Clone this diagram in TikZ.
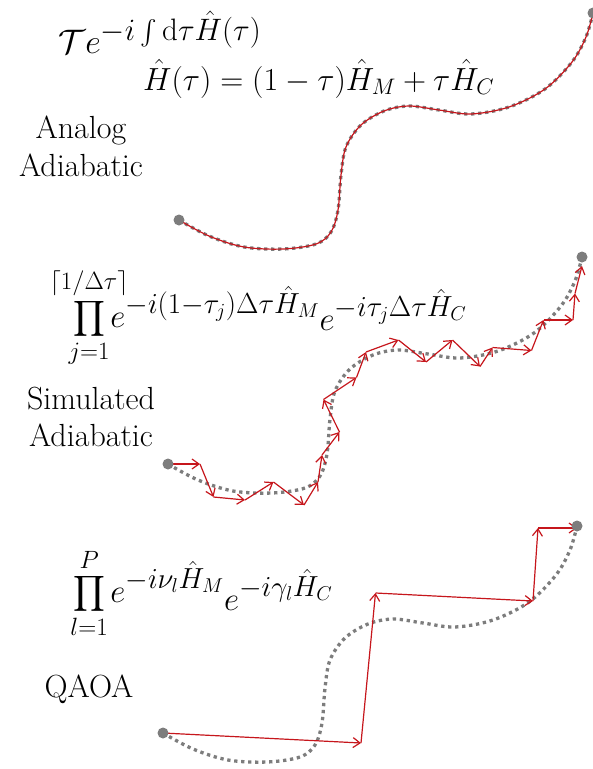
\RequirePackage{fix-cm}
\documentclass[tikz,border=0pt]{standalone}
\usepackage{exscale}
\usetikzlibrary{arrows.meta}
\DeclareMathSizes{34}{34}{31}{21}
\DeclareMathSizes{33}{33}{29}{20}
\definecolor{myred}{RGB}{198,22,28}
\definecolor{mygray}{RGB}{125,125,125}
\newcommand{\lims}[1]{\makebox[0pt]{\fontsize{25}{30}\selectfont$#1$}}
\begin{document}
\begin{tikzpicture}[x=1pt,y=-1pt,
  dotcurve/.style={draw=mygray, line width=3.3pt, dash pattern=on 3.3pt off 3.7pt},
  redcurve/.style={draw=myred, line width=1.2pt},
  redarr/.style={draw=myred, line width=1.2pt, line join=round, -{Straight Barb[length=7pt,width=10pt]}},
  enddot/.style={circle, fill=mygray, inner sep=0pt, minimum size=11pt},
  lbl/.style={anchor=base, inner sep=0pt, font=\fontsize{32}{38}\selectfont},
  eqa/.style={anchor=base west, inner sep=0pt, font=\fontsize{34}{40}\selectfont},
  eq/.style={anchor=base west, inner sep=0pt, font=\fontsize{33}{40}\selectfont},
  eqsmall/.style={anchor=base west, inner sep=0pt, font=\fontsize{32}{38}\selectfont}]
\useasboundingbox (0,0) rectangle (593,769);
\def\curvepts{(0,0) (30,16) (65,27) (104,29) (137,24) (152,12) (159,-10) (162,-45) (167,-73) (182,-95) (205,-109) (230,-114) (260,-110) (292,-106) (330,-113) (366,-131) (393,-158) (407,-183) (414,-207)}

% ---------- Panel 1: analog adiabatic ----------
\node[eqa] (f1) at (58,53) {$\mathcal{T}e^{-i\int\mathrm{d}\tau\hat{H}(\tau)}$};
\node[eqsmall] (f1b) at (143,90) {$\hat{H}(\tau)=(1-\tau)\hat{H}_M+\tau\hat{H}_C$};
\node[lbl] (l1a) at (81,138) {Analog};
\node[lbl] (l1b) at (81,176) {Adiabatic};
\draw[dotcurve, shift={(179,220)}] plot[smooth, tension=0.55] coordinates {\curvepts};
\draw[redcurve, shift={(179,220)}] plot[smooth, tension=0.55] coordinates {\curvepts};
\node[enddot] (s1) at (179,220) {};
\node[enddot] (e1) at (593,13) {};

% ---------- Panel 2: simulated adiabatic ----------
\node[eq] (f2) at (73,327) {$\displaystyle\prod\limits_{\lims{j{=}1}}^{\lims{\lceil 1/\Delta\tau\rceil}} e^{-i(1-\tau_j)\Delta\tau\hat{H}_M}\raisebox{-3pt}{$\displaystyle e^{-i\tau_j\Delta\tau\hat{H}_C}$}$};
\node[lbl] (l2a) at (91,409) {Simulated};
\node[lbl] (l2b) at (91,446) {Adiabatic};
\draw[dotcurve, shift={(168,464)}] plot[smooth, tension=0.55] coordinates {\curvepts};
\foreach \n/\x/\y in {0/168/464, 1/200/464, 2/213.5/497, 3/245/500, 4/273.5/482, 5/304/505, 6/318/482, 7/322/455, 8/339.5/432, 9/323.5/399.5, 10/356.5/377.5, 11/366/352, 12/398.5/340, 13/426/362, 14/452.5/340, 15/480/366.5, 16/492.5/347.5, 17/531.5/350.5, 18/543.5/320, 19/573/320, 20/575/293.5, 21/582/266}
  \coordinate (v\n) at (\x,\y);
\foreach \a [evaluate=\a as \b using int(\a+1)] in {0,...,20}
  \draw[redarr] (v\a) -- (v\b);
\node[enddot] (s2) at (168,464) {};
\node[enddot] (e2) at (582,257) {};

% ---------- Panel 3: QAOA ----------
\node[eq] (f3) at (73,602) {$\displaystyle\prod\limits_{\lims{l{=}1}}^{\lims{P}} e^{-i\nu_l\hat{H}_M}\raisebox{-8pt}{$\displaystyle e^{-i\gamma_l\hat{H}_C}$}$};
\node[lbl] (l3) at (89,697) {QAOA};
\draw[dotcurve, shift={(163,733)}] plot[smooth, tension=0.55] coordinates {\curvepts};
\coordinate (w0) at (163,733);
\coordinate (w1) at (361,743);
\coordinate (w2) at (375.5,593);
\coordinate (w3) at (533,601);
\coordinate (w4) at (538,528);
\coordinate (w5) at (577,528);
\foreach \a/\b in {w0/w1, w1/w2, w2/w3, w3/w4, w4/w5}
  \draw[redarr] (\a) -- (\b);
\node[enddot] (s3) at (163,733) {};
\node[enddot] (e3) at (577,526) {};
\end{tikzpicture}
\end{document}
